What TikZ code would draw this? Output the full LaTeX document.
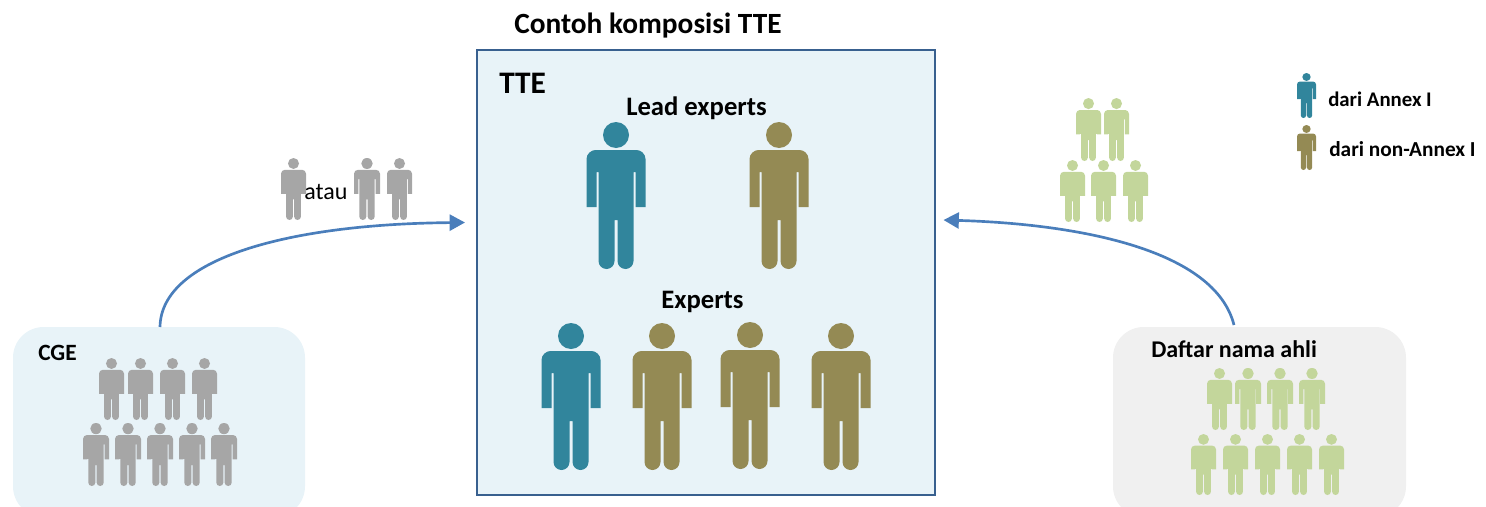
\documentclass[tikz,border=0pt]{standalone}
\usepackage{fontspec}
\setmainfont{Carlito}
\usetikzlibrary{arrows.meta}
\definecolor{tealp}{HTML}{31859C}
\definecolor{olivep}{HTML}{948A54}
\definecolor{greyp}{HTML}{A6A6A6}
\definecolor{greenp}{HTML}{C3D69B}
\definecolor{bluebg}{HTML}{E8F3F8}
\definecolor{greybg}{HTML}{F0F0F0}
\definecolor{frameblue}{HTML}{38608F}
\definecolor{arrowblue}{HTML}{4A7EBB}
% cx, top, width, height, colour, arm gaps shown: 0 none, 1 left, 2 right, 3 both
\newcommand{\personfig}[6]{%
  \begin{scope}[shift={(#1,#2)},xscale=#3/59,yscale=#4/147]
    \fill[#5] (0,13) circle[radius=13];
    \fill[#5] (-29.5,85) -- (-29.5,37) .. controls (-29.5,32) and (-25,28) .. (-20.5,28)
      -- (20.5,28) .. controls (25,28) and (29.5,32) .. (29.5,37) -- (29.5,85) -- (19.5,85)
      -- (19.5,50) -- (17.5,50) -- (17.5,139)
      .. controls (17.5,143.4) and (13.9,147) .. (9.5,147)
      .. controls (5.1,147) and (1.5,143.4) .. (1.5,139) -- (1.5,98) -- (-1.5,98) -- (-1.5,139)
      .. controls (-1.5,143.4) and (-5.1,147) .. (-9.5,147)
      .. controls (-13.9,147) and (-17.5,143.4) .. (-17.5,139) -- (-17.5,50) -- (-19.5,50) -- (-19.5,85) -- cycle;
    \ifodd#6\relax\else\fill[#5] (-20,49) rectangle (-17,85);\fi
    \ifnum#6<2\relax\fill[#5] (17,49) rectangle (20,85);\fi
  \end{scope}}
\tikzset{
  lbl/.style={inner sep=0pt,anchor=base west,font=\bfseries\fontsize{#1}{#1}\selectfont,text=black},
  panel/.style={rounded corners=23pt,inner sep=0pt,outer sep=0pt,draw=none},
  link/.style={arrowblue,line width=2pt,-{Triangle[length=11.5pt,width=12pt]}}
}
\begin{document}
\begin{tikzpicture}[x=0.75pt,y=-0.75pt]
\useasboundingbox (0,0) rectangle (1486,507);
\clip (0,0) rectangle (1486,507);
\node[panel,fill=bluebg,minimum width=219pt,minimum height=142.5pt,anchor=north west] (cge) at (13,327) {};
\node[panel,fill=greybg,minimum width=219.75pt,minimum height=142.5pt,anchor=north west] (daftar) at (1113,327) {};
\node[draw=frameblue,line width=2.2pt,fill=bluebg,inner sep=0pt,outer sep=0pt,minimum width=343.5pt,minimum height=333.75pt,anchor=center] (tte) at (706,272.5) {};
\coordinate (cgein) at (465,222.5);
\coordinate (daftarin) at (943.5,220);
\coordinate (daftarout) at (1234,325);
\draw[link] ([xshift=0.75pt]cge.north) .. controls (161,258) and (290,224) .. (cgein);
\draw[link] (daftarout) .. controls (1215,250) and (1080,224) .. (daftarin);
\node[lbl=22] (title) at (514,33) {Contoh komposisi TTE};
\node[lbl=23.5] (ttelbl) at (499,93) {TTE};
\node[lbl=20] (lead) at (626,115) {Lead experts};
\node[lbl=20] (experts) at (661,308) {Experts};
\node[lbl=17.5] (cgelbl) at (38,360) {CGE};
\node[lbl=18] (daftarlbl) at (1151,357) {Daftar nama ahli};
\node[lbl=15.6] (l1) at (1328,106) {dari Annex I};
\node[lbl=16] (l2) at (1329,156) {dari non-Annex I};
\foreach \c/\cx in {tealp/616,olivep/779} {\personfig{\cx}{122}{59}{147}{\c}{3}}
\foreach \c/\cx/\t in {tealp/571/323,olivep/662/323,olivep/750/322,olivep/841/323} {\personfig{\cx}{\t}{59}{147}{\c}{3}}
\foreach \cx in {111.5,140.5,172.5,204.5} {\personfig{\cx}{358}{25}{62}{greyp}{0}}
\foreach \cx in {96,128,160,192,224} {\personfig{\cx}{423}{26}{63}{greyp}{2}}
\personfig{293.5}{158}{25}{62}{greyp}{0}
\personfig{367}{158}{26}{62}{greyp}{3}
\personfig{399.5}{158}{25}{62}{greyp}{2}
\personfig{1088.5}{98}{25}{63}{greenp}{0}
\personfig{1116.5}{98}{25}{63}{greenp}{2}
\foreach \cx in {1072.5,1103.5,1135.5} {\personfig{\cx}{160}{25}{62}{greenp}{0}}
\personfig{1219.5}{368}{25}{62}{greenp}{0}
\foreach \cx in {1248,1280,1312} {\personfig{\cx}{368}{26}{62}{greenp}{1}}
\foreach \cx in {1203.5,1235.5,1267.5,1299.5,1331.5} {\personfig{\cx}{434}{25}{61}{greenp}{0}}
\personfig{1306.5}{73}{19}{45}{tealp}{2}
\personfig{1306.5}{125}{19}{45}{olivep}{2}
\node[inner sep=0pt,anchor=base west,font=\fontsize{18}{18}\selectfont] (atau) at (304,199) {atau};
\end{tikzpicture}
\end{document}
